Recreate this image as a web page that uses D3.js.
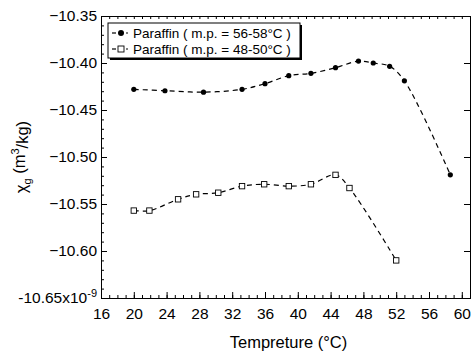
<!DOCTYPE html>
<html>
<head>
<meta charset="utf-8">
<script src="https://cdn.jsdelivr.net/npm/d3@7"></script>
<style>
  body { margin: 0; background: #fff; }
  svg { font-family: "Liberation Sans", Arial, sans-serif; }
</style>
</head>
<body>
<script>
// temperatures and susceptibility readings (x1e-9 m3/kg)
const tempHigh = [20, 23.8, 28.5, 33.2, 36, 38.9, 41.6, 44.6, 47.4, 49.2, 51.2, 53, 58.6];
const chiHigh = [-10.428, -10.4295, -10.431, -10.428, -10.422, -10.4135, -10.411, -10.405, -10.398, -10.400, -10.4035, -10.419, -10.519];
const tempLow = [20, 21.9, 25.4, 27.6, 30.3, 33.2, 35.9, 38.9, 41.6, 44.6, 46.3, 52];
const chiLow = [-10.557, -10.557, -10.545, -10.5397, -10.538, -10.531, -10.529, -10.531, -10.529, -10.519, -10.533, -10.610];

const xTicks = [16, 20, 24, 28, 32, 36, 40, 44, 48, 52, 56, 60];
const yTicks = [-10.35, -10.40, -10.45, -10.50, -10.55, -10.60, -10.65];
const legendLabels = ["Paraffin ( m.p. = 56-58°C )", "Paraffin ( m.p. = 48-50°C )"];

const width = 474, height = 356;
const plotL = 101, plotR = 470, plotT = 16, plotB = 298;

const svg = d3.select("body").append("svg")
  .attr("width", width)
  .attr("height", height);

const x = d3.scaleLinear().domain([16, 61]).range([plotL, plotR]);
const y = d3.scaleLinear().domain([-10.65, -10.35]).range([plotB, plotT]);

// minor ticks
const xMinor = d3.range(16, 62, 1);
const yMinor = d3.range(0, 31).map(i => -10.65 + i * 0.01);

function addAxis(axis, transform) {
  const g = svg.append("g").attr("transform", transform).call(axis);
  g.select(".domain").attr("stroke", "#000").attr("stroke-width", 1);
  g.selectAll(".tick line").attr("stroke", "#000");
  return g;
}

// bottom
addAxis(d3.axisBottom(x).tickValues(xMinor).tickSize(-3).tickFormat(""), `translate(0,${plotB})`);
const gx = addAxis(d3.axisBottom(x).tickValues(xTicks).tickSize(-6).tickPadding(10).tickFormat(d3.format("d")), `translate(0,${plotB})`);
gx.selectAll("text").attr("font-size", 15.5).attr("fill", "#000");

// top
addAxis(d3.axisTop(x).tickValues(xMinor).tickSize(-3).tickFormat(""), `translate(0,${plotT})`);

// left
addAxis(d3.axisLeft(y).tickValues(yMinor).tickSize(-3).tickFormat(""), `translate(${plotL},0)`);
const gy = addAxis(d3.axisLeft(y).tickValues(yTicks).tickSize(-6).tickPadding(6).tickFormat(d3.format(".2f")), `translate(${plotL},0)`);
gy.selectAll("text").attr("font-size", 15.5).attr("fill", "#000").attr("x", -4);
gy.selectAll(".tick").filter(d => Math.abs(d + 10.65) < 1e-9).select("text")
  .text(null)
  .call(t => {
    t.append("tspan").text("-10.65x10");
    t.append("tspan").attr("font-size", 11).attr("dy", "-0.6em").text("-9");
  });

// right
addAxis(d3.axisRight(y).tickValues(yTicks).tickSize(-6).tickFormat(""), `translate(${plotR},0)`);

// series
const line = d3.line().x(d => x(d[0])).y(d => y(d[1])).curve(d3.curveCatmullRom);
const highPts = tempHigh.map((t, i) => [t, chiHigh[i]]);
const lowPts = tempLow.map((t, i) => [t, chiLow[i]]);

[highPts, lowPts].forEach(pts => {
  svg.append("path")
    .attr("d", line(pts))
    .attr("fill", "none")
    .attr("stroke", "#000")
    .attr("stroke-width", 1.2)
    .attr("stroke-dasharray", "5,4");
});

svg.selectAll(".dotHigh")
  .data(highPts)
  .enter().append("circle")
  .attr("cx", d => x(d[0]))
  .attr("cy", d => y(d[1]))
  .attr("r", 2.6)
  .attr("fill", "#000");

svg.selectAll(".sqLow")
  .data(lowPts)
  .enter().append("rect")
  .attr("x", d => x(d[0]) - 2.7)
  .attr("y", d => y(d[1]) - 2.7)
  .attr("width", 5.4)
  .attr("height", 5.4)
  .attr("fill", "#fff")
  .attr("stroke", "#000")
  .attr("stroke-width", 0.9);

// legend
const lg = svg.append("g").attr("transform", "translate(108,23)");
lg.append("rect").attr("x", 2).attr("y", 2).attr("width", 192).attr("height", 35).attr("fill", "#000");
lg.append("rect").attr("x", 0).attr("y", 0).attr("width", 192).attr("height", 35)
  .attr("fill", "#fff").attr("stroke", "#000").attr("stroke-width", 1);

legendLabels.forEach((lab, i) => {
  const cy = 10 + i * 16;
  lg.append("line").attr("x1", 4).attr("x2", 8).attr("y1", cy).attr("y2", cy).attr("stroke", "#000").attr("stroke-width", 1.2);
  lg.append("line").attr("x1", 18).attr("x2", 20).attr("y1", cy).attr("y2", cy).attr("stroke", "#000").attr("stroke-width", 1.2);
  if (i === 0) {
    lg.append("circle").attr("cx", 13).attr("cy", cy).attr("r", 3).attr("fill", "#000");
  } else {
    lg.append("rect").attr("x", 10).attr("y", cy - 3).attr("width", 6).attr("height", 6)
      .attr("fill", "#fff").attr("stroke", "#000").attr("stroke-width", 0.9);
  }
  lg.append("text").attr("x", 25).attr("y", cy + 4.5).attr("font-size", 13.5).attr("fill", "#000").text(lab);
});

// axis titles
svg.append("text")
  .attr("x", (plotL + plotR) / 2 + 3)
  .attr("y", 348)
  .attr("text-anchor", "middle")
  .attr("font-size", 16.5)
  .attr("fill", "#000")
  .text("Tempreture (°C)");

const yl = svg.append("text")
  .attr("transform", "translate(27,157) rotate(-90)")
  .attr("text-anchor", "middle")
  .attr("font-size", 16.5)
  .attr("fill", "#000");
yl.append("tspan").text("χ");
yl.append("tspan").attr("font-size", 11).attr("dy", "0.35em").text("g");
yl.append("tspan").attr("dy", "-0.35em").text(" (m");
yl.append("tspan").attr("font-size", 11).attr("dy", "-0.55em").text("3");
yl.append("tspan").attr("dy", "0.55em").text("/kg)");
</script>
</body>
</html>
